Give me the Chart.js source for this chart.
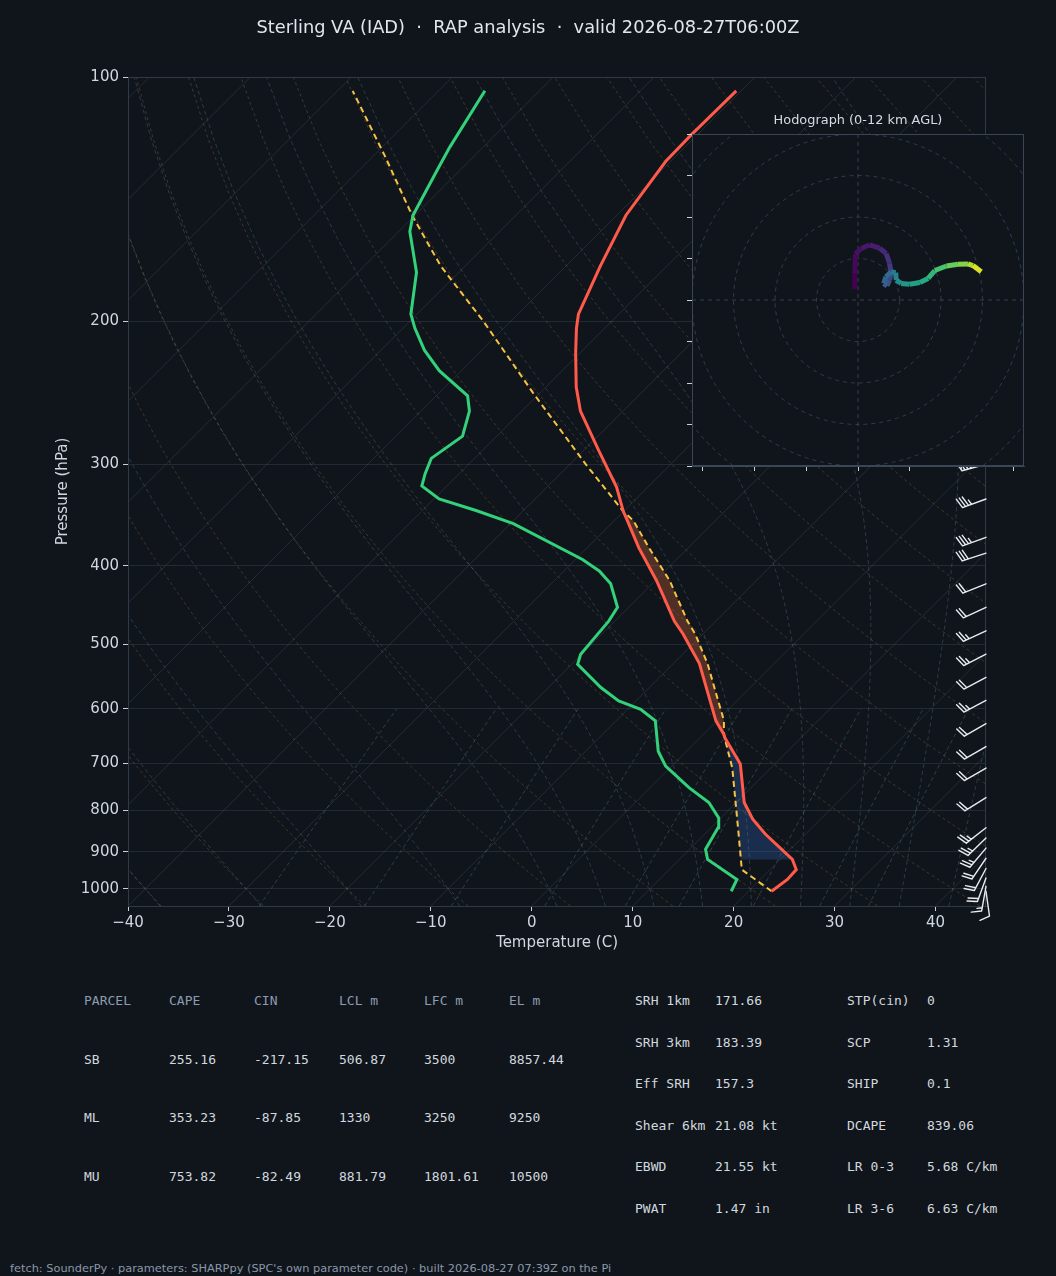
<!DOCTYPE html>
<html>
<head>
<meta charset="utf-8">
<title>Sterling VA (IAD) sounding</title>
<script src="https://cdn.jsdelivr.net/npm/chart.js@4.4.1/dist/chart.umd.min.js"></script>
<style>
  body { margin: 0; background: #10151c; }
  #wrap { position: relative; width: 1056px; height: 1276px; overflow: hidden; font-family: "DejaVu Sans", sans-serif; }
  .abs { position: absolute; white-space: pre; line-height: 1; }
  #skewt { position: absolute; left: 0; top: 0; }
  #hodo { position: absolute; left: 660px; top: 100px; }
  #title { left: 0; width: 1056px; top: 18px; text-align: center; font-size: 17.8px; color: #e1e6ec; }
  #hodoTitle { left: 700px; width: 316px; top: 114px; text-align: center; font-size: 12.9px; color: #d5dbe2; }
  .mono { font-family: "DejaVu Sans Mono", monospace; font-size: 13px; }
  #footer { left: 10px; top: 1263px; font-size: 11.35px; color: #8a97a8; }
</style>
</head>
<body>
<div id="wrap">
  <canvas id="skewt" width="1056" height="960" style="width:1056px;height:960px"></canvas>
  <div id="title" class="abs">Sterling VA (IAD)  ·  RAP analysis  ·  valid 2026-08-27T06:00Z</div>
  <canvas id="hodo" width="380" height="380" style="width:380px;height:380px"></canvas>
  <div id="hodoTitle" class="abs">Hodograph (0-12 km AGL)</div>
  <div id="tables"></div>
  <div id="footer" class="abs">fetch: SounderPy · parameters: SHARPpy (SPC's own parameter code) · built 2026-08-27 07:39Z on the Pi</div>
</div>
<script>
// sounding (hPa, deg C)
const tempP = [1007, 974, 947, 920, 856, 821, 783, 702, 652, 645, 621, 581, 528, 485, 468, 417, 380, 352, 343, 320, 289, 258, 241, 219, 204, 196, 171, 148, 127, 118, 104];
const tempC = [22.3, 22.7, 22.6, 21.2, 16.0, 13.3, 10.8, 6.6, 2.5, 2.0, -0.1, -3.1, -7.4, -12.0, -14.1, -19.9, -24.9, -28.7, -30.0, -33.1, -38.4, -44.2, -47.0, -50.4, -52.8, -54.0, -56.6, -59.1, -60.5, -60.6, -60.5];

const dewP = [1007, 974, 920, 894, 841, 818, 783, 751, 706, 677, 621, 601, 587, 565, 529, 514, 495, 468, 450, 421, 406, 393, 355, 342, 331, 319, 308, 295, 277, 258, 247, 230, 217, 204, 196, 174, 155, 148, 130, 122, 104];
const dewC = [18.3, 17.7, 12.8, 11.6, 10.7, 9.8, 7.3, 3.9, -0.6, -2.8, -6.1, -8.7, -11.7, -14.8, -19.4, -20.1, -20.3, -20.6, -21.1, -24.1, -26.5, -29.3, -39.7, -44.7, -49.5, -52.5, -53.4, -54.3, -53.4, -55.2, -56.9, -62.2, -65.7, -68.8, -70.6, -74.2, -78.9, -80.2, -82.3, -83.3, -85.4];

const parcelP = [1007, 947, 920, 857, 780, 710, 645, 621, 581, 528, 485, 468, 417, 380, 352, 343, 300, 245, 200, 171, 148, 125, 104];
const parcelC = [22.3, 17.2, 16.1, 13.4, 9.8, 6.2, 2.0, 0.7, -2.3, -6.6, -10.8, -12.8, -18.6, -23.9, -28.1, -30.0, -38.4, -50.7, -62.7, -72.4, -80.3, -88.9, -98.5];

// wind barbs on the right edge
const barbP = [300, 331, 369, 386, 421, 450, 481, 514, 549, 586, 626, 668, 710, 772, 841, 866, 891, 917, 944, 970, 993, 1007];
const barbDir = [255, 250, 250, 252, 248, 245, 245, 243, 242, 242, 240, 240, 240, 238, 232, 226, 220, 214, 208, 200, 190, 172];
const barbKt = [35, 35, 35, 30, 20, 20, 25, 25, 20, 25, 20, 20, 20, 20, 25, 25, 25, 20, 20, 20, 15, 10];

// hodograph (kt) and height of each point (km AGL)
const hodoU = [-0.8, -0.8, -0.6, 0.8, 2.8, 5.2, 6.8, 7.6, 8.0, 7.6, 7.0, 6.2, 6.7, 8.0, 9.1, 9.2, 10.4, 12.4, 14.9, 16.9, 18.5, 21.3, 24.1, 26.5, 27.7, 29.7];
const hodoV = [2.6, 6.4, 11.1, 12.4, 13.3, 12.5, 11.2, 8.8, 6.4, 4.8, 3.4, 4.0, 5.6, 6.8, 6.6, 4.8, 4.0, 3.8, 4.2, 5.2, 7.1, 8.2, 8.6, 8.7, 8.3, 6.8];
const hodoKm = [0, 0.25, 0.5, 0.75, 1.0, 1.3, 1.6, 2.0, 2.5, 3.0, 3.4, 3.8, 4.2, 4.8, 5.3, 5.8, 6.3, 6.8, 7.3, 7.8, 8.5, 9.2, 9.8, 10.6, 11.3, 12.0];

// axes and background lines
const pressTicks = [100, 200, 300, 400, 500, 600, 700, 800, 900, 1000];
const tempTicks = [-40, -30, -20, -10, 0, 10, 20, 30, 40];
const isoT = [-130, -120, -110, -100, -90, -80, -70, -60, -50, -40, -30, -20, -10, 0, 10, 20, 30, 40];
const dryT0 = [-40, -30, -20, -10, 0, 10, 20, 30, 40, 50, 60, 70, 80, 90, 100, 110, 120, 130, 140, 150, 160, 170, 180, 190, 200];
const moistT0 = [-40, -30, -20, -10, 0, 5, 10, 15, 20, 25, 30, 35, 40, 45];
const mixW = [0.0004, 0.001, 0.002, 0.004, 0.007, 0.01, 0.016, 0.024, 0.032];
const ringKt = [10, 20, 30, 40, 50];

const parcelRows = [
  ['PARCEL', 'CAPE', 'CIN', 'LCL m', 'LFC m', 'EL m'],
  ['SB', '255.16', '-217.15', '506.87', '3500', '8857.44'],
  ['ML', '353.23', '-87.85', '1330', '3250', '9250'],
  ['MU', '753.82', '-82.49', '881.79', '1801.61', '10500']
];
const paramRows = [
  ['SRH 1km', '171.66', 'STP(cin)', '0'],
  ['SRH 3km', '183.39', 'SCP', '1.31'],
  ['Eff SRH', '157.3', 'SHIP', '0.1'],
  ['Shear 6km', '21.08 kt', 'DCAPE', '839.06'],
  ['EBWD', '21.55 kt', 'LR 0-3', '5.68 C/km'],
  ['PWAT', '1.47 in', 'LR 3-6', '6.63 C/km']
];

const BG = '#10151c';
const TXT = '#d0d7df';
const FRAME = '#2f3a48';
const P_BOT = 1050, P_TOP = 100, T_MIN = -40, T_MAX = 45;
// 45 degree isotherms for an 858 x 829 px plot box
const SKEW = (829 / Math.log10(P_BOT / P_TOP)) / (858 / (T_MAX - T_MIN));
const sk = (t, p) => ({ x: t + SKEW * Math.log10(P_BOT / p), y: p });
const series = (P, C) => P.map((p, i) => sk(C[i], p));
const between = (P, C, lo, hi) => series(P, C).filter(pt => pt.y >= lo && pt.y <= hi);

const pGrid = [];
for (let i = 0; i < 50; i++) pGrid.push(P_BOT - (P_BOT - P_TOP) * i / 49);
const pMix = [];
for (let i = 0; i < 10; i++) pMix.push(P_BOT - (P_BOT - 600) * i / 9);

function moistLapse(t0, p) {
  const Rd = 287.04749, Cp = 1004.6, Lv = 2.50084e6, eps = 0.622;
  const f = (pp, T) => {
    const es = 6.112 * Math.exp(17.67 * (T - 273.15) / (T - 29.65));
    const rs = eps * es / (pp - es);
    return (Rd * T + Lv * rs) / (pp * (Cp + Lv * Lv * rs * eps / (Rd * T * T)));
  };
  let T = t0 + 273.15, pp = 1000;
  const n = Math.max(1, Math.ceil(Math.abs(p - 1000) / 4));
  const h = (p - 1000) / n;
  for (let i = 0; i < n; i++) {
    const k1 = f(pp, T), k2 = f(pp + h / 2, T + h * k1 / 2), k3 = f(pp + h / 2, T + h * k2 / 2), k4 = f(pp + h, T + h * k3);
    T += h * (k1 + 2 * k2 + 2 * k3 + k4) / 6;
    pp += h;
  }
  return T - 273.15;
}
function mixDew(w, p) {
  const e = p * w / (0.622 + w);
  const l = Math.log(e / 6.112);
  return 243.5 * l / (17.67 - l);
}

const bgLine = (data, color, dash) => ({ data, borderColor: color, borderWidth: 1, borderDash: dash, pointRadius: 0, fill: false });

const datasets = [
  { data: series(tempP, tempC), borderColor: '#ff5a4a', borderWidth: 3, pointRadius: 0, fill: false },
  { data: series(dewP, dewC), borderColor: '#33d17a', borderWidth: 3, pointRadius: 0, fill: false },
  { data: series(parcelP, parcelC), borderColor: '#f6c343', borderWidth: 2, borderDash: [6, 4], pointRadius: 0, fill: false },
  { data: between(tempP, tempC, 343, 645).concat(between(parcelP, parcelC, 343, 645).reverse()),
    borderColor: 'transparent', borderWidth: 0, pointRadius: 0, fill: 'shape', backgroundColor: 'rgba(230,110,60,0.3)' },
  { data: between(tempP, tempC, 645, 920).concat(between(parcelP, parcelC, 645, 920).reverse()),
    borderColor: 'transparent', borderWidth: 0, pointRadius: 0, fill: 'shape', backgroundColor: 'rgba(60,120,220,0.25)' }
];
mixW.forEach(w => datasets.push(bgLine(pMix.map(p => sk(mixDew(w, p), p)), 'rgba(90,150,150,0.35)', [4, 3])));
moistT0.forEach(t0 => datasets.push(bgLine(pGrid.map(p => sk(moistLapse(t0, p), p)), 'rgba(96,140,160,0.32)', [4, 3])));
dryT0.forEach(t0 => datasets.push(bgLine(pGrid.map(p => sk((t0 + 273.15) * Math.pow(p / 1000, 0.2857) - 273.15, p)), 'rgba(176,122,64,0.32)', [3, 3])));
isoT.forEach(t => datasets.push(bgLine([sk(t, P_BOT), sk(t, P_TOP)], 'rgba(140,160,185,0.16)', [])));

const framePlugin = {
  id: 'frame',
  afterDatasetsDraw(chart) {
    const { ctx, chartArea: a } = chart;
    ctx.save();
    ctx.strokeStyle = FRAME;
    ctx.lineWidth = 1;
    ctx.strokeRect(a.left + 0.5, a.top + 0.5, a.right - a.left - 1, a.bottom - a.top);
    ctx.restore();
  }
};

const barbPlugin = {
  id: 'barbs',
  afterDraw(chart) {
    const { ctx, chartArea, scales } = chart;
    const L = 25, FH = 10, SP = 3.2;
    ctx.save();
    ctx.strokeStyle = '#e8ebef';
    ctx.lineWidth = 1.4;
    ctx.lineCap = 'round';
    barbP.forEach((p, i) => {
      const bx = chartArea.right, by = scales.y.getPixelForValue(p);
      const th = barbDir[i] * Math.PI / 180;
      const dx = Math.sin(th), dy = -Math.cos(th);
      const px = -dy, py = dx;
      const tx = bx + L * dx, ty = by + L * dy;
      ctx.beginPath();
      ctx.moveTo(bx, by);
      ctx.lineTo(tx, ty);
      let s = Math.round(barbKt[i] / 5) * 5;
      const full = Math.floor(s / 10), half = (s % 10) >= 5;
      let pos = 0;
      for (let k = 0; k < full; k++) {
        const sx = tx - pos * dx, sy = ty - pos * dy;
        ctx.moveTo(sx, sy);
        ctx.lineTo(sx + FH * px + 0.3 * FH * dx, sy + FH * py + 0.3 * FH * dy);
        pos += SP;
      }
      if (half) {
        if (full === 0) pos = SP;
        const sx = tx - pos * dx, sy = ty - pos * dy;
        ctx.moveTo(sx, sy);
        ctx.lineTo(sx + FH / 2 * px + 0.15 * FH * dx, sy + FH / 2 * py + 0.15 * FH * dy);
      }
      ctx.stroke();
    });
    ctx.restore();
  }
};

const minus = v => String(v).replace('-', '\u2212');

new Chart(document.getElementById('skewt'), {
  type: 'line',
  data: { datasets },
  options: {
    responsive: false,
    animation: false,
    events: [],
    layout: { padding: { left: 54, top: 77, right: 70, bottom: 0 } },
    plugins: { legend: { display: false }, tooltip: { enabled: false } },
    scales: {
      x: {
        type: 'linear', min: T_MIN, max: T_MAX, position: 'bottom',
        afterBuildTicks: s => { s.ticks = tempTicks.map(v => ({ value: v })); },
        afterFit: s => { s.height = 54; },
        grid: { drawOnChartArea: false, drawTicks: true, tickLength: 5, tickColor: '#c8d0da' },
        border: { color: FRAME },
        ticks: { color: TXT, font: { family: 'DejaVu Sans', size: 15 }, padding: 3, maxRotation: 0, callback: minus },
        title: { display: true, text: 'Temperature (C)', color: TXT, font: { family: 'DejaVu Sans', size: 15 }, padding: { top: 0, bottom: 8 } }
      },
      y: {
        type: 'logarithmic', min: P_TOP, max: P_BOT, reverse: true, position: 'left',
        afterBuildTicks: s => { s.ticks = pressTicks.map(v => ({ value: v })); },
        afterFit: s => { s.width = 74; },
        grid: { color: '#222a35', drawTicks: true, tickLength: 5, tickColor: '#c8d0da' },
        border: { color: FRAME },
        ticks: { color: TXT, font: { family: 'DejaVu Sans', size: 15 }, padding: 4, callback: v => String(v) },
        title: { display: true, text: 'Pressure (hPa)', color: TXT, font: { family: 'DejaVu Sans', size: 15 }, padding: 0 }
      }
    }
  },
  plugins: [framePlugin, barbPlugin]
});

// hodograph inset
const VIRIDIS = ['#440154', '#482475', '#414487', '#355f8d', '#2a788e', '#21918c', '#22a884', '#44bf70', '#7ad151', '#bddf26', '#fde725'];
function viridis(t) {
  t = Math.max(0, Math.min(1, t)) * 10;
  const i = Math.min(9, Math.floor(t)), f = t - i;
  const a = VIRIDIS[i], b = VIRIDIS[i + 1];
  const c = k => Math.round(parseInt(a.substr(k, 2), 16) * (1 - f) + parseInt(b.substr(k, 2), 16) * f);
  return `rgb(${c(1)},${c(3)},${c(5)})`;
}
const hodoPts = hodoU.map((u, i) => ({ x: u, y: hodoV[i] }));
const hodoSets = [
  { data: hodoPts, borderWidth: 5, pointRadius: 0, fill: false, borderCapStyle: 'butt', borderJoinStyle: 'round',
    borderColor: viridis(0), segment: { borderColor: c => viridis(hodoKm[c.p0DataIndex] / 12) } },
  bgLine([{ x: -40, y: 0 }, { x: 40, y: 0 }], '#344050', [4, 4]),
  bgLine([{ x: 0, y: -40 }, { x: 0, y: 40 }], '#344050', [4, 4])
];
ringKt.forEach(r => {
  const pts = [];
  for (let a = 0; a <= 360; a += 3) pts.push({ x: r * Math.cos(a * Math.PI / 180), y: r * Math.sin(a * Math.PI / 180) });
  hodoSets.push(bgLine(pts, '#303b49', [4, 4]));
});
const hodoBox = {
  id: 'hodoBox',
  beforeDraw(chart) {
    const { ctx, chartArea: a } = chart;
    ctx.save();
    ctx.fillStyle = BG;
    ctx.fillRect(a.left, a.top, a.right - a.left, a.bottom - a.top);
    ctx.restore();
  },
  afterDraw(chart) {
    const { ctx, chartArea: a } = chart;
    ctx.save();
    ctx.strokeStyle = '#3a4656';
    ctx.lineWidth = 1;
    ctx.strokeRect(a.left + 0.5, a.top + 0.5, a.right - a.left - 1, a.bottom - a.top - 1);
    ctx.restore();
  }
};
new Chart(document.getElementById('hodo'), {
  type: 'line',
  data: { datasets: hodoSets },
  options: {
    responsive: false,
    animation: false,
    events: [],
    layout: { padding: { left: 26, top: 34, right: 16, bottom: 8 } },
    plugins: { legend: { display: false }, tooltip: { enabled: false } },
    scales: {
      x: {
        type: 'linear', min: -40, max: 40,
        afterBuildTicks: s => { s.ticks = [-37.5, -25, -12.5, 0, 12.5, 25, 37.5].map(v => ({ value: v })); },
        afterFit: s => { s.height = 6; },
        grid: { drawOnChartArea: false, drawTicks: true, tickLength: 5, tickColor: '#c8d0da' },
        border: { color: '#3a4656' },
        ticks: { display: false }
      },
      y: {
        type: 'linear', min: -40, max: 40,
        afterBuildTicks: s => { s.ticks = [-40, -30, -20, -10, 0, 10, 20, 30, 40].map(v => ({ value: v })); },
        afterFit: s => { s.width = 6; },
        grid: { drawOnChartArea: false, drawTicks: true, tickLength: 5, tickColor: '#c8d0da' },
        border: { color: '#3a4656' },
        ticks: { display: false }
      }
    }
  },
  plugins: [hodoBox]
});

// parameter tables
const tables = document.getElementById('tables');
function put(txt, x, y, color) {
  const d = document.createElement('div');
  d.className = 'abs mono';
  d.style.left = x + 'px';
  d.style.top = (y - 6.5) + 'px';
  d.style.color = color;
  d.textContent = txt;
  tables.appendChild(d);
}
const parcelX = [84, 169, 254, 339, 424, 509];
const parcelY = [1000, 1059, 1117, 1176];
parcelRows.forEach((row, r) => row.forEach((t, c) => put(t, parcelX[c], parcelY[r], r === 0 ? '#8d9bb0' : '#d2d8df')));
const paramX = [635, 715, 847, 927];
const paramY = [1000, 1042, 1083, 1125, 1166, 1208];
paramRows.forEach((row, r) => row.forEach((t, c) => put(t, paramX[c], paramY[r], '#d2d8df')));
</script>
</body>
</html>
